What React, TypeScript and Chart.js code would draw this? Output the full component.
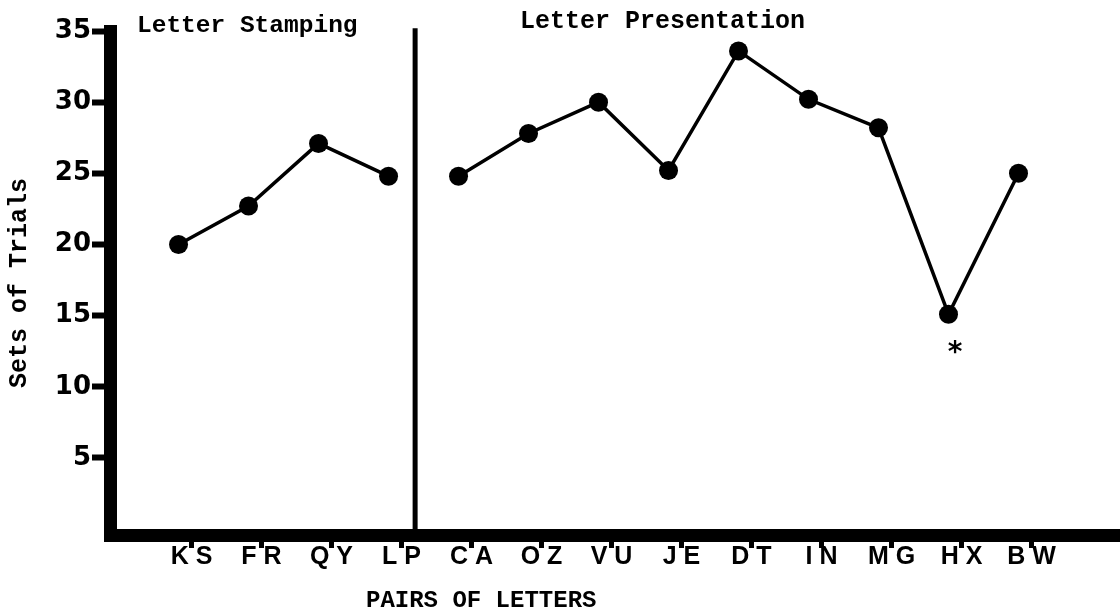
import React, { useEffect, useRef } from "react";
import { Chart, registerables } from "chart.js";

Chart.register(...registerables);

// ---- data ----
const pairLabels = ["K S", "F R", "Q Y", "L P", "C A", "O Z", "V U", "J E", "D T", "I N", "M G", "H X", "B W"];
const stampingValues = [20, 22.7, 27.1, 24.8];
const presentationValues = [24.8, 27.8, 30.0, 25.2, 33.6, 30.2, 28.2, 15.1, 25.0];
const yTickValues = [5, 10, 15, 20, 25, 30, 35];
const sectionTitles = ["Letter Stamping", "Letter Presentation"];
const yTitle = "Sets of Trials";
const xTitle = "PAIRS OF LETTERS";
const markedPairIndex = 11; // the "*" pair (H X)
const sectionDividerAt = 3.38; // between the two sections, in pair-index units

export default function App() {
  const ref = useRef<HTMLCanvasElement>(null);

  useEffect(() => {
    const canvas = ref.current;
    if (!canvas) return;

    const stampingPoints = stampingValues.map((v, i) => ({ x: i, y: v }));
    const presentationPoints = presentationValues.map((v, i) => ({ x: stampingValues.length + i, y: v }));

    const annotate = {
      id: "annotate",
      afterDatasetsDraw(chart: any) {
        const { ctx, scales } = chart;
        ctx.save();
        ctx.fillStyle = "#000";
        ctx.textAlign = "left";
        ctx.textBaseline = "alphabetic";
        ctx.font = "bold 24.5px 'Liberation Mono'";
        ctx.fillText(sectionTitles[0], 137, 32);
        ctx.font = "bold 25px 'Liberation Mono'";
        ctx.fillText(sectionTitles[1], 520, 28);
        ctx.font = "bold 24px 'Liberation Mono'";
        ctx.fillText(xTitle, 366, 607);

        const mv = presentationValues[markedPairIndex - stampingValues.length];
        const ax = scales.x.getPixelForValue(markedPairIndex) + 6.5;
        const ay = scales.y.getPixelForValue(mv) + 39;
        ctx.font = "bold 28px 'DejaVu Sans'";
        ctx.textAlign = "center";
        ctx.textBaseline = "middle";
        ctx.fillText("*", ax, ay);
        ctx.restore();
      },
    };

    const lineStyle = {
      borderColor: "#000",
      borderWidth: 3.5,
      pointRadius: 9.5,
      pointBackgroundColor: "#000",
      pointBorderColor: "#000",
      pointBorderWidth: 0,
      fill: false,
      tension: 0,
    };

    const chart = new Chart(canvas, {
      type: "line",
      data: {
        datasets: [
          { label: sectionTitles[0], data: stampingPoints, ...lineStyle },
          { label: sectionTitles[1], data: presentationPoints, ...lineStyle },
          {
            label: "divider",
            data: [
              { x: sectionDividerAt, y: -0.41 },
              { x: sectionDividerAt, y: 35.2 },
            ],
            borderColor: "#000",
            borderWidth: 5,
            pointRadius: 0,
            clip: false,
          } as any,
        ],
      },
      options: {
        responsive: false,
        animation: false,
        events: [],
        layout: { autoPadding: false, padding: { top: 31, left: 0, right: 0, bottom: 0 } },
        plugins: {
          legend: { display: false },
          tooltip: { enabled: false },
          title: { display: false },
        },
        scales: {
          x: {
            type: "linear",
            display: false,
            min: -0.979,
            max: 13.45,
          },
          xt: {
            type: "linear",
            axis: "x",
            position: "bottom",
            min: -1.164,
            max: 13.264,
            afterBuildTicks: (axis: any) => {
              axis.ticks = pairLabels.map((_, i) => ({ value: i }));
            },
            afterFit: (axis: any) => {
              axis.height = 80;
            },
            border: { display: true, color: "#000", width: 13 },
            grid: {
              display: true,
              drawOnChartArea: false,
              drawTicks: true,
              tickLength: 13,
              tickWidth: 5,
              tickColor: "#000",
            },
            ticks: {
              autoSkip: false,
              maxRotation: 0,
              minRotation: 0,
              padding: -6,
              color: "#000",
              font: { family: "'Liberation Sans'", size: 25, weight: "bold" },
              callback: (_v: any, i: number) => pairLabels[i],
            },
          },
          y: {
            type: "linear",
            position: "left",
            min: -0.41,
            max: 35,
            afterBuildTicks: (axis: any) => {
              axis.ticks = yTickValues.map((v) => ({ value: v }));
            },
            afterFit: (axis: any) => {
              axis.width = 110;
            },
            border: { display: true, color: "#000", width: 13 },
            grid: {
              display: true,
              drawOnChartArea: false,
              drawTicks: true,
              tickLength: 18,
              tickWidth: 6,
              tickColor: "#000",
            },
            ticks: {
              padding: 1,
              color: "#000",
              font: { family: "'DejaVu Sans'", size: 26, weight: "bold" },
            },
            title: {
              display: true,
              text: yTitle,
              color: "#000",
              padding: { top: 5, bottom: 0 },
              font: { family: "'Liberation Mono'", size: 25, weight: "bold" },
            },
          },
        },
      },
      plugins: [annotate],
    } as any);

    return () => chart.destroy();
  }, []);

  return (
    <div style={{ position: "absolute", left: 0, top: 0, width: 1120, height: 615, background: "#fff" }}>
      <canvas ref={ref} width={1120} height={615} style={{ display: "block" }} />
    </div>
  );
}
